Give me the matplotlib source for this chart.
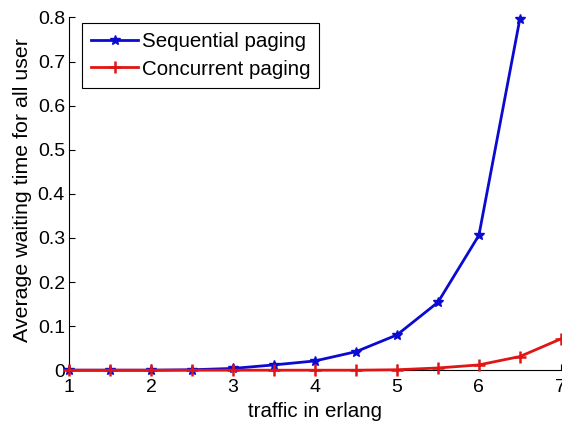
import matplotlib
matplotlib.use("Agg")
import matplotlib.pyplot as plt

plt.rcParams['font.family'] = ['Liberation Sans', 'DejaVu Sans']

traffic_seq = [1, 1.5, 2, 2.5, 3, 3.5, 4, 4.5, 5, 5.5, 6, 6.5]
wait_seq = [0.0, 0.0, 0.0, 0.001, 0.004, 0.012, 0.021, 0.042, 0.080, 0.154, 0.306, 0.797]

traffic_con = [1, 1.5, 2, 2.5, 3, 3.5, 4, 4.5, 5, 5.5, 6, 6.5, 7]
wait_con = [0.0, 0.0, 0.0, 0.0, 0.0, 0.0, 0.0, 0.0, 0.001, 0.005, 0.012, 0.031, 0.071]

x_ticks = [1, 2, 3, 4, 5, 6, 7]
y_ticks = [0, 0.1, 0.2, 0.3, 0.4, 0.5, 0.6, 0.7, 0.8]

fig = plt.figure(figsize=(5.62, 4.26), dpi=100)
ax = fig.add_axes([0.123, 0.131, 0.875, 0.828])

ax.plot(traffic_seq, wait_seq, color='#0a0ad0', lw=2, marker='*', ms=7,
        label='Sequential paging', clip_on=False, zorder=2)
ax.plot(traffic_con, wait_con, color='#e01515', lw=2, marker='+', ms=9, mew=1.8,
        label='Concurrent paging', clip_on=False, zorder=3)

ax.set_xlim(1, 7)
ax.set_ylim(0, 0.8)
ax.set_xticks(x_ticks)
ax.set_xticklabels([str(v) for v in x_ticks])
ax.set_yticks(y_ticks)
ax.set_yticklabels(['0'] + [f'{v:.1f}' for v in y_ticks[1:]])
ax.tick_params(direction='in', labelsize=14, length=4)
ax.tick_params(axis='x', pad=6)
ax.tick_params(axis='y', pad=3)
for s in ('top', 'right'):
    ax.spines[s].set_visible(False)

ax.set_xlabel('traffic in erlang', fontsize=14.8, labelpad=5)
ax.set_ylabel('Average waiting time for all user', fontsize=15.4)
ax.yaxis.set_label_coords(-0.076, 0.51)

leg = ax.legend(loc='upper left', bbox_to_anchor=(0.026, 0.984), fontsize=14.8,
                fancybox=False, edgecolor='black', framealpha=1,
                handlelength=2.3, borderpad=0.45, labelspacing=0.4,
                handletextpad=0.15, borderaxespad=0)
leg.get_frame().set_linewidth(0.8)

fig.savefig('out.png', dpi=100)
